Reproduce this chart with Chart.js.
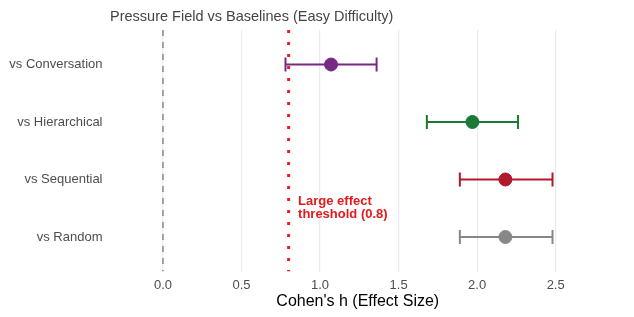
<!DOCTYPE html>
<html>
<head>
<meta charset="utf-8">
<script src="https://cdn.jsdelivr.net/npm/chart.js@4.4.0/dist/chart.umd.min.js"></script>
<style>
  html, body { margin: 0; padding: 0; background: #fff; }
  #wrap { width: 634px; height: 317px; position: relative; }
</style>
</head>
<body>
<div id="wrap"><canvas id="effectChart"></canvas></div>
<script>
const comparisons = ['vs Conversation', 'vs Hierarchical', 'vs Sequential', 'vs Random'];
const effectSizes = [1.07, 1.97, 2.18, 2.18];
const ciLow = [0.78, 1.68, 1.89, 1.89];
const ciHigh = [1.36, 2.26, 2.48, 2.48];
const colors = ['#762a83', '#1b7837', '#b2182b', '#878787'];
const xTicks = [0, 0.5, 1, 1.5, 2, 2.5];
const threshold = 0.8;

const FONT = '"Liberation Sans", Arial, sans-serif';

const datasets = [];
// points on top
comparisons.forEach((name, i) => {
    datasets.push({
        label: name,
        data: [{ x: effectSizes[i], y: i + 1 }],
        backgroundColor: colors[i],
        borderColor: colors[i],
        pointRadius: 6.5,
        pointHoverRadius: 6.5,
        order: 0
    });
});
// confidence intervals
comparisons.forEach((name, i) => {
    datasets.push({
        label: name + ' CI',
        data: [{ x: ciLow[i], y: i + 1 }, { x: ciHigh[i], y: i + 1 }],
        showLine: true,
        borderColor: colors[i],
        borderWidth: 2,
        pointStyle: 'line',
        rotation: 90,
        pointRadius: 7,
        pointBorderWidth: 2,
        pointBorderColor: colors[i],
        order: 1
    });
});
// reference lines
datasets.push({
    label: 'zero',
    data: [{ x: 0, y: 0.4 }, { x: 0, y: 4.6 }],
    showLine: true,
    borderColor: '#6e6e6e',
    borderWidth: 1.2,
    borderDash: [6, 6],
    pointRadius: 0,
    order: 3
});
datasets.push({
    label: 'threshold',
    data: [{ x: threshold, y: 0.4 }, { x: threshold, y: 4.6 }],
    showLine: true,
    borderColor: '#ee1c1c',
    borderWidth: 3,
    borderDash: [3, 9],
    pointRadius: 0,
    order: 2
});

const extraText = {
    id: 'extraText',
    afterDraw(chart) {
        const ctx = chart.ctx;
        const x = chart.scales.x, y = chart.scales.y;
        ctx.save();
        ctx.fillStyle = '#444';
        ctx.font = '14.5px ' + FONT;
        ctx.textAlign = 'left';
        ctx.textBaseline = 'middle';
        ctx.fillText('Pressure Field vs Baselines (Easy Difficulty)', 110, 17);

        ctx.fillStyle = '#e31a1c';
        ctx.font = 'bold 13px ' + FONT;
        const ax = x.getPixelForValue(0.86);
        const ay = y.getPixelForValue(3.5);
        ctx.fillText('Large effect', ax, ay - 7);
        ctx.fillText('threshold (0.8)', ax, ay + 6);
        ctx.restore();
    }
};

const ctx = document.getElementById('effectChart').getContext('2d');
new Chart(ctx, {
    type: 'scatter',
    data: { datasets: datasets },
    options: {
        responsive: true,
        maintainAspectRatio: false,
        animation: false,
        layout: { padding: { top: 30, right: 62, left: 0, bottom: 0 } },
        plugins: {
            legend: { display: false },
            tooltip: { enabled: false }
        },
        scales: {
            x: {
                type: 'linear',
                min: -0.124,
                max: 2.604,
                afterBuildTicks: s => { s.ticks = xTicks.map(v => ({ value: v })); },
                afterFit: s => { s.height = 45.5; },
                border: { display: false },
                grid: { color: '#ebebeb', lineWidth: 1.2, drawTicks: false },
                ticks: {
                    padding: 6,
                    color: '#4d4d4d',
                    font: { family: FONT, size: 13 },
                    callback: v => v.toFixed(1)
                },
                title: {
                    display: true,
                    text: "Cohen's h (Effect Size)",
                    color: '#000',
                    font: { family: FONT, size: 16 },
                    padding: { top: 0, bottom: 6 }
                }
            },
            y: {
                type: 'linear',
                min: 0.4,
                max: 4.6,
                reverse: true,
                afterBuildTicks: s => { s.ticks = comparisons.map((c, i) => ({ value: i + 1 })); },
                afterFit: s => {
                    s.width = 143.5;
                    // the wide label gap should not push the plot area down
                    s.paddingTop = 0;
                    s.paddingBottom = 0;
                },
                border: { display: false },
                grid: { display: false, drawTicks: false },
                ticks: {
                    padding: 41,
                    color: '#4d4d4d',
                    font: { family: FONT, size: 13 },
                    callback: v => comparisons[v - 1]
                }
            }
        }
    },
    plugins: [extraText]
});
</script>
</body>
</html>
